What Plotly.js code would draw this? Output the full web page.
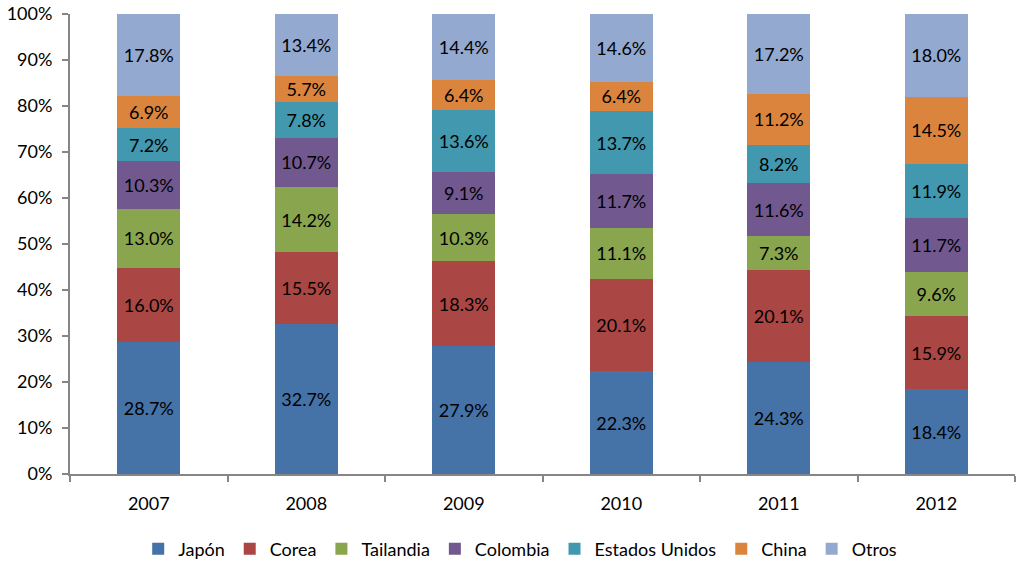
<!DOCTYPE html>
<html><head><meta charset="utf-8">
<script src="https://cdn.plot.ly/plotly-3.0.1.min.js"></script>
<style>body{margin:0;background:#fff}#c{width:1018px;height:563px}</style>
</head><body><div id="c"></div>
<script>
const years = ['2007','2008','2009','2010','2011','2012'];
const seriesNames = ['Japón','Corea','Tailandia','Colombia','Estados Unidos','China','Otros'];
const japon = [28.7,32.7,27.9,22.3,24.3,18.4];
const corea = [16.0,15.5,18.3,20.1,20.1,15.9];
const tailandia = [13.0,14.2,10.3,11.1,7.3,9.6];
const colombia = [10.3,10.7,9.1,11.7,11.6,11.7];
const estadosUnidos = [7.2,7.8,13.6,13.7,8.2,11.9];
const china = [6.9,5.7,6.4,6.4,11.2,14.5];
const otros = [17.8,13.4,14.4,14.6,17.2,18.0];
const yTicks = [0,10,20,30,40,50,60,70,80,90,100];

const values = [japon,corea,tailandia,colombia,estadosUnidos,china,otros];
const colors = ['#4572A7','#AA4643','#89A54E','#71588F','#4198AF','#DB843D','#93A9CF'];
const font = 'Lato, Calibri, Carlito, sans-serif';

const traces = values.map((v,i)=>({
  type:'bar', name:seriesNames[i], x:years, y:v,
  marker:{color:colors[i], line:{width:0}},
  text:v.map(d=>d.toFixed(1)+'%'), textposition:'inside', insidetextanchor:'middle',
  textfont:{color:'#000', size:18, family:font}, constraintext:'none',
  hoverinfo:'skip'
}));

const layout = {
  barmode:'stack', bargap:0.6,
  width:1018, height:563,
  margin:{l:70, r:3, t:14, b:89, autoexpand:false},
  paper_bgcolor:'#fff', plot_bgcolor:'#fff',
  font:{family:font, size:18, color:'#000'},
  showlegend:true,
  legend:{orientation:'h', x:0.511, xanchor:'center', xref:'container', yref:'container', y:0.025, yanchor:'middle',
    font:{size:18, family:font}, traceorder:'normal', itemwidth:30, tracegroupgap:0},
  xaxis:{type:'category', showline:true, linecolor:'#868686', linewidth:2,
    ticks:'outside', tickson:'boundaries', ticklen:6, tickcolor:'#868686', tickwidth:2,
    ticklabelstandoff:12,
    showgrid:false, zeroline:false, tickfont:{size:18, family:font}},
  yaxis:{range:[0,100], tickvals:yTicks, ticktext:yTicks.map(t=>t+'%'),
    showline:true, linecolor:'#868686', linewidth:2,
    ticks:'outside', ticklen:6, tickcolor:'#868686', tickwidth:2,
    ticklabelstandoff:6,
    showgrid:false, zeroline:false, tickfont:{size:18, family:font}}
};
Plotly.newPlot('c', traces, layout, {displayModeBar:false, staticPlot:true});
</script></body></html>
